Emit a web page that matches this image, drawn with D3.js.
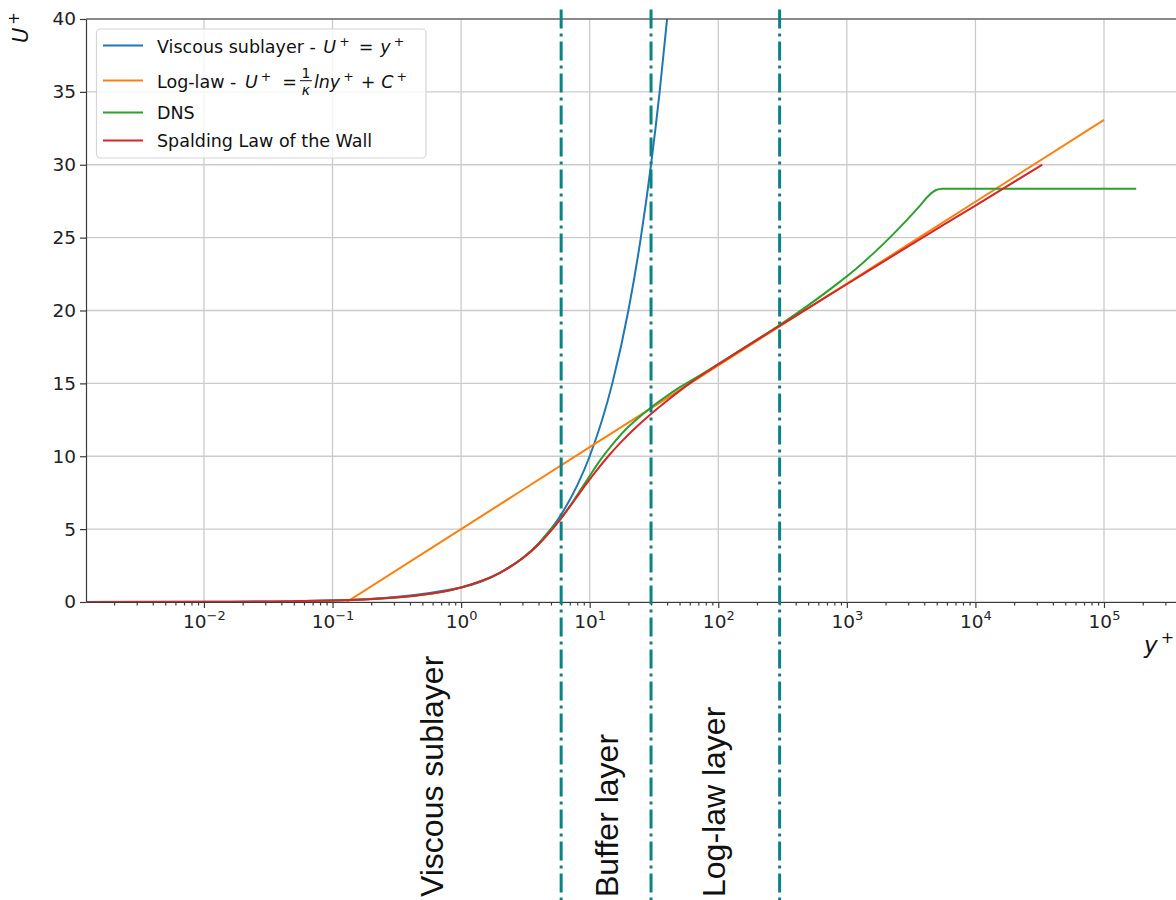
<!DOCTYPE html>
<html>
<head>
<meta charset="utf-8">
<script src="https://cdn.jsdelivr.net/npm/d3@7"></script>
<style>
  body { margin: 0; background: #fff; }
  svg { display: block; font-family: "DejaVu Sans", sans-serif; }
</style>
</head>
<body>
<svg id="chart" width="1176" height="900"></svg>
<script>
// y+ / U+ samples
const viscousY = [0.0012, 0.01, 0.1, 1, 2, 4, 6, 8, 10, 15, 20, 25, 30, 35, 40, 45];
const viscousU = [0.0012, 0.01, 0.1, 1, 2, 4, 6, 8, 10, 15, 20, 25, 30, 35, 40, 45];

const logLawY = [0.1287, 1, 10, 100, 1000, 10000, 100000];
const logLawU = [0, 5.0, 10.62, 16.23, 21.85, 27.46, 33.08];

const dnsY = [0.05, 0.1, 0.5, 1, 2, 3, 4, 5, 6, 8, 10, 12, 15, 20, 25, 30, 40, 50, 70, 100, 200, 300, 500,
              885, 1194, 1609, 2168, 2924, 3706, 4300, 4900, 5500, 6500, 20000, 178000];
const dnsU = [0.05, 0.1, 0.5, 1.0, 2.0, 3.0, 4.0, 5.0, 5.76, 7.34, 8.65, 9.7, 10.8, 12.02, 12.78, 13.35,
              14.15, 14.72, 15.49, 16.33, 18.0, 19.0, 20.35, 21.98, 22.9, 23.92, 25.02, 26.2, 27.2,
              27.85, 28.25, 28.35, 28.35, 28.35, 28.35];

const spaldingY = [0.0012, 0.01, 0.1, 0.5, 1.0, 2.003, 3.015, 4.052, 5.13, 6.305, 7.64, 9.23, 11.25,
                   13.94, 17.68, 23.05, 30.91, 42.58, 60.03, 100, 185, 300, 1000, 3000, 10000, 33000];
const spaldingU = [0.0012, 0.01, 0.1, 0.5, 1, 2, 3, 4, 5, 6, 7, 8, 9,
                   10, 11, 12, 13, 14, 15, 16.3, 17.8, 18.95, 21.8, 24.4, 27.2, 30.0];

const layerBounds = [6, 30, 300];
const layerLabels = ["Viscous sublayer", "Buffer layer", "Log-law layer"];
const layerLabelAt = [0.72, 16.6, 113];   // y+ of each label's baseline

const xMajor = [1e-2, 1e-1, 1e0, 1e1, 1e2, 1e3, 1e4, 1e5];
const yTicks = [0, 5, 10, 15, 20, 25, 30, 35, 40];

const colors = ["#1f77b4", "#ff7f0e", "#2ca02c", "#d62728"];

const W = 1176, H = 900;
const plotLeft = 86, plotTop = 19, plotBottom = 602;

const x = d3.scaleLog().domain([1.21e-3, 3.63e5]).range([plotLeft, W]);
const y = d3.scaleLinear().domain([0, 40]).range([plotBottom, plotTop]);

const svg = d3.select("#chart");

// minor ticks for the log axis
let xMinor = [];
for (let n = -3; n <= 5; n++) {
    for (let k = 2; k <= 9; k++) {
        let v = k * Math.pow(10, n);
        if (v > x.domain()[0] && v < x.domain()[1]) xMinor.push(v);
    }
}

// grid
svg.append("g").selectAll("line").data(xMajor).enter().append("line")
    .attr("x1", d => x(d)).attr("x2", d => x(d))
    .attr("y1", plotTop).attr("y2", plotBottom)
    .attr("stroke", "#cbcbcb").attr("stroke-width", 1.3);
svg.append("g").selectAll("line").data(yTicks).enter().append("line")
    .attr("x1", plotLeft).attr("x2", W)
    .attr("y1", d => y(d)).attr("y2", d => y(d))
    .attr("stroke", "#cbcbcb").attr("stroke-width", 1.3);

// curves
svg.append("clipPath").attr("id", "plot-clip")
    .append("rect").attr("x", plotLeft).attr("y", plotTop)
    .attr("width", W - plotLeft).attr("height", plotBottom - plotTop);

const line = d3.line()
    .x(d => x(d[0]))
    .y(d => y(d[1]))
    .curve(d3.curveMonotoneX);

const series = [
    [viscousY, viscousU],
    [logLawY, logLawU],
    [dnsY, dnsU],
    [spaldingY, spaldingU],
];
const plot = svg.append("g").attr("clip-path", "url(#plot-clip)");
series.forEach(([ys, us], i) => {
    plot.append("path")
        .datum(d3.zip(ys, us))
        .attr("d", line)
        .attr("fill", "none")
        .attr("stroke", colors[i])
        .attr("stroke-width", 2);
});

// axes
const spine = "#3a3a3a";
const xAxis = svg.append("g")
    .attr("transform", `translate(0,${plotBottom})`)
    .call(d3.axisBottom(x).tickValues(xMajor).tickSize(6).tickSizeOuter(0).tickPadding(7).tickFormat(""));
svg.append("g")
    .attr("transform", `translate(0,${plotBottom})`)
    .call(d3.axisBottom(x).tickValues(xMinor).tickSize(3.5).tickSizeOuter(0).tickFormat(""))
    .call(g => g.select(".domain").remove());
const yAxis = svg.append("g")
    .attr("transform", `translate(${plotLeft},0)`)
    .call(d3.axisLeft(y).tickValues(yTicks).tickSize(6).tickSizeOuter(0).tickPadding(4));

svg.selectAll(".domain, .tick line").attr("stroke", spine).attr("stroke-width", 1.2);
yAxis.selectAll(".tick text")
    .attr("font-family", "DejaVu Sans").attr("font-size", 18.5).attr("fill", "#222");

xAxis.selectAll(".tick").each(function (d) {
    let e = Math.round(Math.log10(d));
    let t = d3.select(this).append("text")
        .attr("y", 26).attr("text-anchor", "middle")
        .attr("font-family", "DejaVu Sans").attr("font-size", 18.5).attr("fill", "#222");
    t.append("tspan").text("10");
    t.append("tspan").attr("dy", -8.5).attr("font-size", 13)
        .text(e < 0 ? "\u2212" + (-e) : String(e));
});

// top spine
svg.append("line").attr("x1", plotLeft).attr("x2", W).attr("y1", plotTop).attr("y2", plotTop)
    .attr("stroke", spine).attr("stroke-width", 1.2);

// region boundaries
svg.append("g").selectAll("line").data(layerBounds).enter().append("line")
    .attr("x1", d => x(d)).attr("x2", d => x(d))
    .attr("y1", y(40.65)).attr("y2", H)
    .attr("stroke", "#0b8383").attr("stroke-width", 3)
    .attr("stroke-dasharray", "19,5,3,5");

svg.append("g").selectAll("text").data(layerLabels).enter().append("text")
    .attr("transform", (d, i) => `translate(${x(layerLabelAt[i])},897) rotate(-90)`)
    .attr("font-family", "Liberation Sans, Arial, sans-serif")
    .attr("font-size", 32).attr("fill", "#111")
    .text(d => d);

// axis labels
const ylab = svg.append("text")
    .attr("transform", "translate(28,43) rotate(-90)")
    .attr("font-family", "DejaVu Sans").attr("font-size", 21).attr("fill", "#111");
ylab.append("tspan").attr("font-style", "italic").text("U");
ylab.append("tspan").attr("dx", 3).attr("dy", -9).attr("font-size", 15).text("+");

const xlab = svg.append("text")
    .attr("x", 1144).attr("y", 653)
    .attr("font-family", "DejaVu Sans").attr("font-size", 23).attr("fill", "#111");
xlab.append("tspan").attr("font-style", "italic").text("y");
xlab.append("tspan").attr("dx", 3).attr("dy", -10).attr("font-size", 16).text("+");

// legend
const legend = svg.append("g");
legend.append("rect")
    .attr("x", 96.5).attr("y", 29).attr("width", 329.5).attr("height", 129)
    .attr("rx", 4).attr("fill", "#fff").attr("fill-opacity", 0.8)
    .attr("stroke", "#d6d6d6").attr("stroke-width", 1.2);

const rowLine = [45.5, 80.5, 112.5, 140.5];
const rowBase = [52.5, 87.5, 119.3, 146.7];
rowLine.forEach((ly, i) => {
    legend.append("line")
        .attr("x1", 103).attr("x2", 143).attr("y1", ly).attr("y2", ly)
        .attr("stroke", colors[i]).attr("stroke-width", 2);
});

// mathtext-like label: parts may be italic (i), superscript (sup) and carry extra spacing (dx)
function richText(xp, yp, parts) {
    let t = legend.append("text").attr("x", xp).attr("y", yp)
        .attr("font-family", "DejaVu Sans").attr("font-size", 17.5).attr("fill", "#111")
        .attr("xml:space", "preserve");
    let raised = 0;
    parts.forEach(p => {
        let s = t.append("tspan").text(p.t);
        if (p.sup) {
            s.attr("dy", -7 - raised).attr("font-size", 12.5);
            raised = -7;
        } else if (raised) {
            s.attr("dy", -raised);
            raised = 0;
        }
        if (p.dx) s.attr("dx", p.dx);
        if (p.i) s.attr("font-style", "italic");
    });
    return t;
}

richText(157, rowBase[0], [
    {t: "Viscous sublayer - "}, {t: "U", i: true, dx: 2}, {t: "+", sup: true, dx: 3},
    {t: "=", dx: 9}, {t: "y", i: true, dx: 7}, {t: "+", sup: true, dx: 3},
]);

let lt = richText(157, rowBase[1], [
    {t: "Log-law - "}, {t: "U", i: true, dx: 3}, {t: "+", sup: true, dx: 3}, {t: "=", dx: 11},
]);
let fx = 157 + lt.node().getComputedTextLength() + 3 + 3 + 11 + 3;
legend.append("text").attr("x", fx + 6).attr("y", rowBase[1] - 9.5)
    .attr("text-anchor", "middle").attr("font-size", 14).attr("fill", "#111").text("1");
legend.append("line").attr("x1", fx).attr("x2", fx + 12)
    .attr("y1", rowBase[1] - 6.8).attr("y2", rowBase[1] - 6.8)
    .attr("stroke", "#111").attr("stroke-width", 1);
legend.append("text").attr("x", fx + 6).attr("y", rowBase[1] + 7.5)
    .attr("text-anchor", "middle").attr("font-size", 14).attr("font-style", "italic")
    .attr("fill", "#111").text("\u03ba");
richText(fx + 14, rowBase[1], [
    {t: "lny", i: true}, {t: "+", sup: true, dx: 3}, {t: "+", dx: 7}, {t: "C", i: true, dx: 6},
    {t: "+", sup: true, dx: 3},
]);

richText(157, rowBase[2], [{t: "DNS"}]);
richText(157, rowBase[3], [{t: "Spalding Law of the Wall"}]);
</script>
</body>
</html>
